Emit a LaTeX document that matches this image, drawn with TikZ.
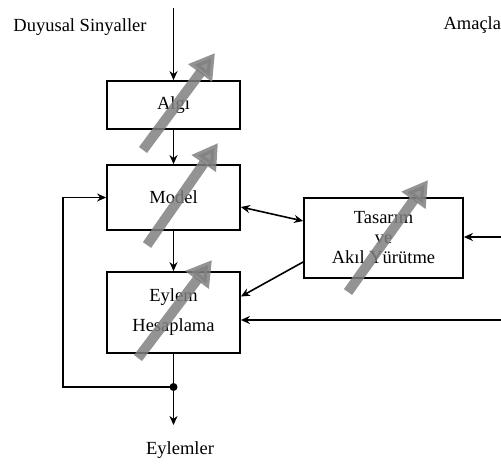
\documentclass[tikz,border=0pt]{standalone}
\usepackage{fontspec}
\setmainfont{Liberation Serif}
\usetikzlibrary{arrows,arrows.meta}
\tikzstyle{block} = [rectangle, draw=black, line width=1.8pt, minimum width=133pt, inner sep=0pt, align=center]
\tikzstyle{arrow} = [line width=1.6pt,->,>={Stealth[length=9pt,width=8pt]}]
\tikzstyle{twoway} = [line width=1.6pt,<->,>={Stealth[length=9pt,width=8pt]}]
\tikzstyle{tune} = [line width=10pt, draw=gray, opacity=0.85, -{Triangle[length=25pt,width=28pt]}]

\begin{document}
\begin{tikzpicture}[x=1pt,y=-1pt,font=\fontsize{18.5}{20}\selectfont]
\useasboundingbox (0,0) rectangle (501,466);
\node (Algi)[block, minimum height=48pt] at (173.5,105) {Algı};
\node (Model)[block, minimum height=65pt] at (173.5,197.5) {Model};
\node (Eylem)[block, minimum height=81pt] at (173.5,312.5) {Eylem\\[10pt]Hesaplama};
\node (Tasarim)[block, minimum width=159pt, minimum height=80pt] at (383.5,238) {Tasarım\\ve\\Akıl Yürütme};
\node (Duyusal) at (80,27) {Duyusal Sinyaller};
\node (Amaclar)[anchor=west] at (440,25) {Amaçlar};
\node (Eylemler) at (180,450) {Eylemler};
\coordinate (giris) at (173.5,8);
\coordinate (amac) at (501,237);
\coordinate (geri) at (501,320);
\coordinate (dugum) at (173.5,387);
\coordinate (sol) at (63,387);
\coordinate (cikis) at (173.5,425);
\draw [arrow](giris) -- (Algi);
\draw [arrow](Algi) -- (Model);
\draw [arrow](Model) -- (Eylem);
\draw [twoway]([yshift=-9.5pt]Model.east) -- ([yshift=17pt]Tasarim.west);
\draw [arrow]([yshift=-24pt]Tasarim.west) -- ([yshift=16pt]Eylem.east);
\draw [arrow](amac) -- (Tasarim.east |- amac);
\draw [arrow](geri) -- (Eylem.east |- geri);
\draw [line width=1.6pt](Eylem) -- (dugum);
\draw [arrow](dugum) -- (cikis);
\draw [arrow](dugum) -- (sol) |- (Model.west);
\fill (dugum) circle (4pt);
% ayarlanabilir bloklar
\draw [tune](143,150) -- (215,53);
\draw [tune](147,245) -- (218,143);
\draw [tune](138,358) -- (212,260);
\draw [tune](348,292) -- (428,180);
\end{tikzpicture}
\end{document}
